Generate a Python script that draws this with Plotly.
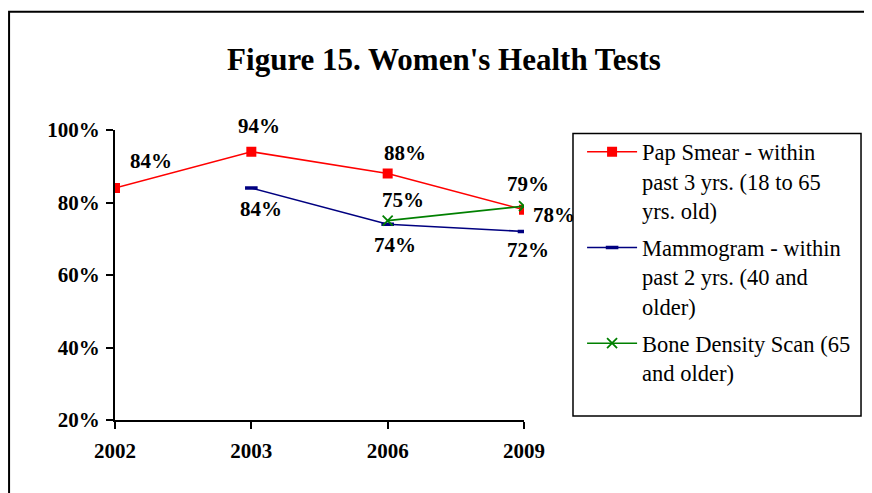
import plotly.graph_objects as go

years = ["2002", "2003", "2006", "2009"]
pap = [84, 94, 88, 78]
mammo = [None, 84, 74, 72]
bone = [None, None, 75, 79]
y_ticks = [20, 40, 60, 80, 100]

names = [
    "Pap Smear - within<br>past 3 yrs. (18 to 65<br>yrs. old)",
    "Mammogram - within<br>past 2 yrs. (40 and<br>older)",
    "Bone Density Scan (65<br>and older)",
]

SERIF = "Liberation Serif, Times New Roman, serif"

fig = go.Figure()
fig.add_trace(go.Scatter(
    x=years, y=pap, name=names[0], mode="lines+markers",
    line=dict(color="#FF0000", width=1.6),
    marker=dict(symbol="square", size=10, color="#FF0000"),
    legendgroup="a",
))
fig.add_trace(go.Scatter(
    x=years, y=mammo, name=names[1], mode="lines+markers",
    line=dict(color="#000080", width=1.6),
    marker=dict(symbol="line-ew", size=9, color="#000080",
                line=dict(color="#000080", width=3.5)),
    legendgroup="b",
))
fig.add_trace(go.Scatter(
    x=years, y=bone, name=names[2], mode="lines+markers",
    line=dict(color="#008000", width=1.6),
    marker=dict(symbol="x-thin", size=10, color="#008000",
                line=dict(color="#008000", width=1.8)),
    legendgroup="c",
))

# data label offsets (pixels, right / down) per series/point
offsets = {
    "pap": [(36, -27), (8, -26), (17, -21), (30, 5)],
    "mammo": [None, (10, 21), (7, 21), (4, 18)],
    "bone": [None, None, (15, -21), (4, -22)],
}
for key, vals in (("pap", pap), ("mammo", mammo), ("bone", bone)):
    for i, v in enumerate(vals):
        if v is None:
            continue
        dx, dy = offsets[key][i]
        fig.add_annotation(
            x=i, y=v, xref="x", yref="y", text=f"<b>{v}%</b>", showarrow=False,
            xshift=dx, yshift=-dy,
            font=dict(family=SERIF, size=21, color="black"),
        )

# legend box
fig.add_shape(type="rect", xref="paper", yref="paper",
              x0=1.1198, x1=1.824, y0=0.0138, y1=0.988,
              line=dict(color="black", width=1.5), fillcolor="rgba(0,0,0,0)")
# outer chart border
fig.add_shape(type="rect", xref="paper", yref="paper",
              x0=-0.259, x1=1.9, y0=-0.3, y1=1.408,
              line=dict(color="black", width=2), fillcolor="rgba(0,0,0,0)")

fig.update_layout(
    width=872, height=493,
    margin=dict(l=107, r=356, t=121.5, b=81),
    paper_bgcolor="white", plot_bgcolor="white",
    title=dict(text="<b>Figure 15. Women's Health Tests</b>",
               x=0.5, xanchor="center", y=0.8966, yanchor="middle",
               font=dict(family=SERIF, size=31, color="black")),
    legend=dict(x=1.142, y=0.998, xanchor="left", yanchor="top",
                font=dict(family=SERIF, size=22.5, color="black"),
                bgcolor="rgba(0,0,0,0)", borderwidth=0,
                traceorder="grouped", tracegroupgap=5,
                valign="top", itemwidth=50),
    showlegend=True,
)
fig.update_xaxes(
    type="category", range=[0, 3], showgrid=False,
    showline=True, linecolor="black", linewidth=2,
    ticks="outside", ticklen=7, tickwidth=2, tickcolor="black",
    tickfont=dict(family=SERIF, size=21, color="black", weight="bold"),
    ticklabelstandoff=4,
)
fig.update_yaxes(
    range=[20, 100], tickvals=y_ticks, ticktext=[f"{t}%" for t in y_ticks],
    showgrid=False, zeroline=False,
    showline=True, linecolor="black", linewidth=2,
    ticks="outside", ticklen=7, tickwidth=2, tickcolor="black",
    tickfont=dict(family=SERIF, size=21, color="black", weight="bold"),
    ticklabelstandoff=2,
)

fig.write_html("out.html")
